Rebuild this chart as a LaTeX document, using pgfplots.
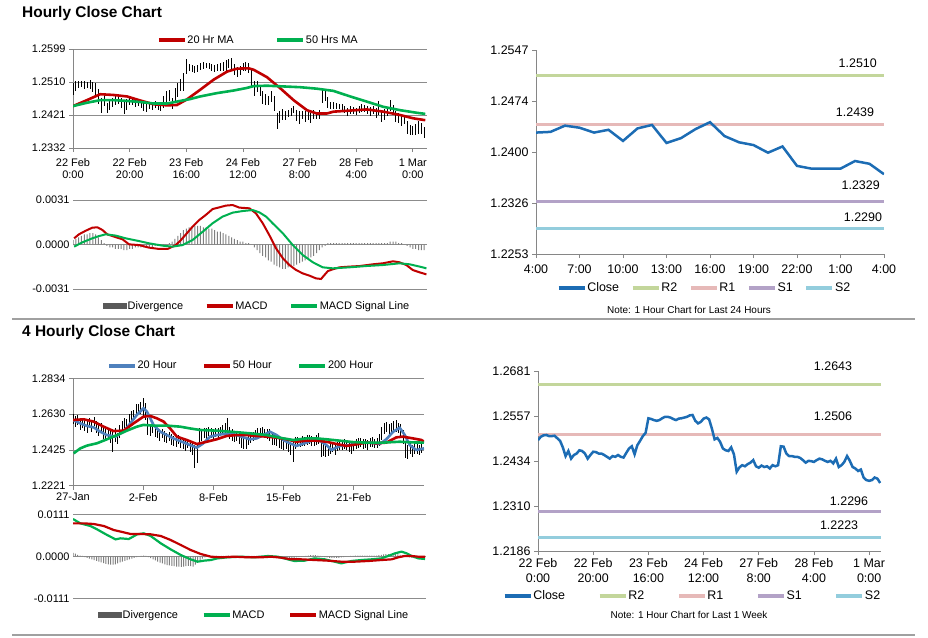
\documentclass[border=0pt]{standalone}
\usepackage{fontspec}
\setmainfont{Liberation Sans}
\usepackage{pgfplots}
\pgfplotsset{compat=1.18}
\usepackage{pgfplotstable}

\definecolor{maRed}{HTML}{C00000}
\definecolor{maGreen}{HTML}{00B050}
\definecolor{maBlue}{HTML}{4F81BD}
\definecolor{closeBlue}{HTML}{1C6CB4}
\definecolor{rTwo}{HTML}{C3D69B}
\definecolor{rOne}{HTML}{E6B9B8}
\definecolor{sOne}{HTML}{B3A2C7}
\definecolor{sTwo}{HTML}{93CDDD}
\definecolor{axGray}{HTML}{868686}
\definecolor{gridGray}{HTML}{8C8C8C}
\definecolor{divGray}{HTML}{7F7F7F}
\definecolor{divDark}{HTML}{595959}
\definecolor{sepGray}{HTML}{A0A0A0}

% hourly close, 22 Feb 0:00 .. 1 Mar 4:00 (h = hour index), e = half of hi-lo range
\pgfplotstableread{
h c e
0 1.2491 0.0017
1 1.2500 0.0014
2 1.2504 0.0010
3 1.2505 0.0009
4 1.2502 0.0010
5 1.2502 0.0009
6 1.2503 0.0012
7 1.2496 0.0014
8 1.2489 0.0017
9 1.2471 0.0020
10 1.2447 0.0020
11 1.2461 0.0017
12 1.2440 0.0014
13 1.2450 0.0015
14 1.2454 0.0012
15 1.2463 0.0014
16 1.2461 0.0010
17 1.2454 0.0014
18 1.2440 0.0017
19 1.2450 0.0015
20 1.2459 0.0012
21 1.2458 0.0010
22 1.2454 0.0012
23 1.2454 0.0009
24 1.2450 0.0010
25 1.2445 0.0012
26 1.2440 0.0010
27 1.2447 0.0009
28 1.2445 0.0010
29 1.2450 0.0009
30 1.2445 0.0010
31 1.2443 0.0012
32 1.2456 0.0015
33 1.2468 0.0017
34 1.2474 0.0014
35 1.2452 0.0015
36 1.2477 0.0017
37 1.2489 0.0019
38 1.2502 0.0017
39 1.2511 0.0024
40 1.2551 0.0020
41 1.2549 0.0010
42 1.2546 0.0009
43 1.2544 0.0010
44 1.2546 0.0009
45 1.2551 0.0009
46 1.2555 0.0010
47 1.2555 0.0007
48 1.2553 0.0009
49 1.2549 0.0010
50 1.2546 0.0009
51 1.2550 0.0009
52 1.2551 0.0010
53 1.2553 0.0012
54 1.2555 0.0014
55 1.2559 0.0012
56 1.2560 0.0014
57 1.2544 0.0015
58 1.2537 0.0014
59 1.2541 0.0012
60 1.2550 0.0010
61 1.2553 0.0012
62 1.2548 0.0014
63 1.2523 0.0024
64 1.2493 0.0020
65 1.2497 0.0015
66 1.2486 0.0014
67 1.2468 0.0017
68 1.2463 0.0014
69 1.2461 0.0012
70 1.2471 0.0015
71 1.2452 0.0020
72 1.2404 0.0022
73 1.2416 0.0017
74 1.2422 0.0014
75 1.2419 0.0012
76 1.2425 0.0010
77 1.2429 0.0012
78 1.2436 0.0010
79 1.2419 0.0015
80 1.2415 0.0017
81 1.2421 0.0012
82 1.2417 0.0014
83 1.2419 0.0012
84 1.2413 0.0014
85 1.2422 0.0012
86 1.2419 0.0010
87 1.2422 0.0012
88 1.2474 0.0020
89 1.2473 0.0014
90 1.2454 0.0015
91 1.2447 0.0010
92 1.2447 0.0009
93 1.2445 0.0009
94 1.2445 0.0007
95 1.2442 0.0009
96 1.2436 0.0010
97 1.2429 0.0012
98 1.2434 0.0010
99 1.2433 0.0009
100 1.2431 0.0010
101 1.2436 0.0009
102 1.2440 0.0010
103 1.2438 0.0009
104 1.2434 0.0010
105 1.2431 0.0012
106 1.2434 0.0010
107 1.2427 0.0014
108 1.2440 0.0020
109 1.2417 0.0015
110 1.2422 0.0014
111 1.2431 0.0012
112 1.2447 0.0015
113 1.2434 0.0014
114 1.2417 0.0015
115 1.2413 0.0014
116 1.2406 0.0014
117 1.2410 0.0012
118 1.2388 0.0017
119 1.2381 0.0014
120 1.2379 0.0012
121 1.2381 0.0015
122 1.2388 0.0017
123 1.2385 0.0014
124 1.2373 0.0015
}\hourly

\pgfplotstableread{
h m
0 1.2445
4.9 1.2461
9.6 1.2477
14.4 1.2475
19.1 1.2471
23.8 1.2460
28.5 1.2450
33.2 1.2447
36.7 1.2448
40.2 1.2463
44.9 1.2489
49.6 1.2516
54.4 1.2538
57.9 1.2546
62.0 1.2547
63.8 1.2543
68.5 1.2523
73.2 1.2493
77.9 1.2461
82.6 1.2434
86.1 1.2425
89.6 1.2425
92.0 1.2430
97.9 1.2433
103.8 1.2436
109.6 1.2430
115.5 1.2421
120.2 1.2412
124.4 1.2407
}\hmaTwenty

\pgfplotstableread{
h m
0 1.2445
4.9 1.2454
9.6 1.2461
14.4 1.2461
19.1 1.2459
23.8 1.2456
28.5 1.2452
33.2 1.2452
37.9 1.2459
41.4 1.2464
44.9 1.2471
50.8 1.2480
56.7 1.2487
61.4 1.2494
63.8 1.2499
68.5 1.2500
74.4 1.2498
80.2 1.2496
86.1 1.2492
92.0 1.2486
97.9 1.2471
103.8 1.2457
109.6 1.2443
115.5 1.2434
121.4 1.2427
124.4 1.2424
}\hmaFifty

\pgfplotstableread{
h d
0 0.0003
1 0.0004
2 0.0005
3 0.0006
4 0.0007
5 0.0007
6 0.0008
7 0.0008
8 0.0007
9 0.0005
10 0.0003
11 0.0001
12 -0.0001
13 -0.0002
14 -0.0002
15 -0.0003
16 -0.0003
17 -0.0003
18 -0.0004
19 -0.0004
20 -0.0003
21 -0.0003
22 -0.0002
23 -0.0002
24 -0.0002
25 -0.0002
26 -0.0002
27 -0.0002
28 -0.0002
29 -0.0001
30 -0.0001
31 -0.0001
32 -0.0001
33 0.0000
34 0.0001
35 0.0002
36 0.0004
37 0.0006
38 0.0008
39 0.0010
40 0.0011
41 0.0012
42 0.0012
43 0.0013
44 0.0013
45 0.0013
46 0.0012
47 0.0012
48 0.0011
49 0.0011
50 0.0010
51 0.0009
52 0.0009
53 0.0008
54 0.0007
55 0.0006
56 0.0005
57 0.0004
58 0.0003
59 0.0002
60 0.0002
61 0.0001
62 0.0001
63 0.0000
64 -0.0002
65 -0.0004
66 -0.0006
67 -0.0008
68 -0.0009
69 -0.0011
70 -0.0012
71 -0.0014
72 -0.0015
73 -0.0016
74 -0.0017
75 -0.0017
76 -0.0016
77 -0.0015
78 -0.0015
79 -0.0014
80 -0.0013
81 -0.0012
82 -0.0011
83 -0.0010
84 -0.0009
85 -0.0008
86 -0.0006
87 -0.0004
88 -0.0002
89 -0.0001
90 0.0001
91 0.0001
92 0.0001
93 0.0001
94 0.0001
95 0.0001
96 0.0001
97 0.0001
98 0.0001
99 0.0001
100 0.0001
101 0.0001
102 0.0001
103 0.0001
104 0.0001
105 0.0001
106 0.0001
107 0.0001
108 0.0001
109 0.0001
110 0.0001
111 0.0001
112 0.0002
113 0.0002
114 0.0002
115 0.0001
116 0.0001
117 0.0000
118 -0.0001
119 -0.0002
120 -0.0003
121 -0.0003
122 -0.0004
123 -0.0004
124 -0.0004
}\hdiv

\pgfplotstableread{
h m
0.4 0.00043
2.1 0.00071
4.5 0.00096
6.8 0.00117
8.6 0.00120
10.4 0.00101
12.1 0.00071
14.5 0.00055
17.5 0.00036
19.8 0.00001
23.3 -0.00004
26.9 -0.00022
30.4 -0.00031
33.4 -0.00031
36.3 -0.00004
38.1 0.00031
39.9 0.00071
42.2 0.00124
44.6 0.00171
46.9 0.00206
49.3 0.00247
51.7 0.00259
54.0 0.00271
56.4 0.00275
58.7 0.00257
62.3 0.00252
64.6 0.00217
67.0 0.00148
69.3 0.00066
71.7 -0.00027
74.1 -0.00096
76.4 -0.00143
78.8 -0.00178
81.1 -0.00201
83.5 -0.00217
85.8 -0.00236
87.6 -0.00240
88.8 -0.00212
90.0 -0.00185
91.7 -0.00173
94.1 -0.00159
97.6 -0.00154
101.2 -0.00150
105.9 -0.00138
109.4 -0.00131
113.0 -0.00117
115.3 -0.00124
117.7 -0.00143
120.0 -0.00178
122.4 -0.00194
124.8 -0.00208
}\hmacd

\pgfplotstableread{
h m
0.4 -0.00015
3.3 0.00015
6.8 0.00043
9.2 0.00059
11.6 0.00071
15.1 0.00062
18.6 0.00043
23.3 0.00024
26.9 0.00008
31.6 -0.00008
35.1 -0.00015
38.7 -0.00004
42.2 0.00031
45.8 0.00089
49.3 0.00148
52.8 0.00194
56.4 0.00222
59.9 0.00233
63.4 0.00240
65.8 0.00224
68.2 0.00194
70.5 0.00148
74.1 0.00078
77.6 -0.00004
81.1 -0.00073
84.7 -0.00124
88.2 -0.00159
91.7 -0.00166
97.6 -0.00159
103.5 -0.00150
109.4 -0.00143
115.3 -0.00131
118.9 -0.00138
122.4 -0.00154
124.8 -0.00166
}\hsignal

% 4-hourly close, 27 Jan .. 1 Mar (b = bar index)
\pgfplotstableread{
b c e
0 1.2600 0.0029
1 1.2587 0.0032
2 1.2596 0.0026
3 1.2573 0.0035
4 1.2581 0.0029
5 1.2568 0.0032
6 1.2558 0.0038
7 1.2577 0.0029
8 1.2562 0.0032
9 1.2587 0.0026
10 1.2554 0.0035
11 1.2539 0.0032
12 1.2548 0.0029
13 1.2520 0.0035
14 1.2510 0.0032
15 1.2524 0.0029
16 1.2501 0.0035
17 1.2478 0.0064
18 1.2510 0.0038
19 1.2491 0.0032
20 1.2529 0.0038
21 1.2558 0.0032
22 1.2577 0.0029
23 1.2573 0.0026
24 1.2596 0.0032
25 1.2615 0.0035
26 1.2625 0.0029
27 1.2653 0.0032
28 1.2657 0.0029
29 1.2663 0.0035
30 1.2668 0.0056
31 1.2644 0.0048
32 1.2558 0.0048
33 1.2539 0.0035
34 1.2548 0.0029
35 1.2529 0.0032
36 1.2520 0.0029
37 1.2510 0.0032
38 1.2520 0.0026
39 1.2501 0.0032
40 1.2491 0.0029
41 1.2501 0.0026
42 1.2486 0.0032
43 1.2478 0.0029
44 1.2472 0.0032
45 1.2486 0.0026
46 1.2467 0.0032
47 1.2459 0.0029
48 1.2453 0.0032
49 1.2463 0.0026
50 1.2448 0.0032
51 1.2434 0.0040
52 1.2387 0.0064
53 1.2406 0.0056
54 1.2501 0.0048
55 1.2510 0.0032
56 1.2524 0.0029
57 1.2516 0.0032
58 1.2529 0.0026
59 1.2520 0.0029
60 1.2510 0.0032
61 1.2524 0.0026
62 1.2520 0.0029
63 1.2529 0.0026
64 1.2539 0.0029
65 1.2548 0.0032
66 1.2558 0.0048
67 1.2520 0.0035
68 1.2510 0.0032
69 1.2501 0.0029
70 1.2505 0.0026
71 1.2491 0.0032
72 1.2472 0.0035
73 1.2463 0.0032
74 1.2459 0.0029
75 1.2482 0.0026
76 1.2491 0.0029
77 1.2501 0.0026
78 1.2510 0.0029
79 1.2520 0.0032
80 1.2524 0.0026
81 1.2529 0.0029
82 1.2520 0.0026
83 1.2516 0.0029
84 1.2510 0.0032
85 1.2491 0.0035
86 1.2482 0.0029
87 1.2478 0.0032
88 1.2467 0.0029
89 1.2463 0.0032
90 1.2453 0.0029
91 1.2459 0.0026
92 1.2448 0.0032
93 1.2434 0.0035
94 1.2415 0.0056
95 1.2463 0.0035
96 1.2472 0.0029
97 1.2467 0.0026
98 1.2478 0.0029
99 1.2472 0.0026
100 1.2482 0.0029
101 1.2486 0.0026
102 1.2478 0.0029
103 1.2472 0.0026
104 1.2482 0.0029
105 1.2491 0.0032
106 1.2434 0.0048
107 1.2425 0.0035
108 1.2415 0.0032
109 1.2421 0.0029
110 1.2434 0.0032
111 1.2444 0.0029
112 1.2429 0.0032
113 1.2444 0.0026
114 1.2453 0.0029
115 1.2448 0.0026
116 1.2459 0.0029
117 1.2453 0.0026
118 1.2444 0.0029
119 1.2434 0.0032
120 1.2448 0.0029
121 1.2459 0.0026
122 1.2463 0.0029
123 1.2467 0.0026
124 1.2459 0.0029
125 1.2463 0.0026
126 1.2453 0.0029
127 1.2467 0.0026
128 1.2472 0.0029
129 1.2463 0.0026
130 1.2467 0.0029
131 1.2482 0.0032
132 1.2520 0.0038
133 1.2548 0.0032
134 1.2554 0.0029
135 1.2543 0.0032
136 1.2548 0.0029
137 1.2558 0.0032
138 1.2562 0.0035
139 1.2548 0.0029
140 1.2539 0.0032
141 1.2501 0.0040
142 1.2425 0.0048
143 1.2415 0.0040
144 1.2434 0.0032
145 1.2421 0.0035
146 1.2429 0.0029
147 1.2434 0.0032
148 1.2425 0.0029
149 1.2434 0.0026
}\fourh

\pgfplotstableread{
b m
0 1.2596
3.1 1.2577
6.0 1.2562
8.8 1.2554
11.7 1.2529
14.5 1.2510
18.1 1.2501
21.6 1.2529
24.5 1.2577
27.3 1.2625
30.1 1.2663
31.6 1.2644
34.4 1.2568
37.3 1.2529
40.1 1.2510
42.9 1.2491
46.5 1.2472
50.0 1.2453
52.9 1.2438
55.7 1.2463
58.6 1.2501
61.4 1.2510
64.3 1.2516
67.1 1.2520
70.0 1.2510
72.8 1.2497
75.6 1.2486
78.5 1.2491
81.3 1.2510
84.2 1.2529
87.0 1.2510
89.9 1.2482
92.7 1.2463
95.5 1.2448
99.8 1.2467
104.1 1.2491
108.3 1.2453
110.5 1.2425
114.0 1.2448
118.3 1.2453
122.6 1.2467
126.8 1.2467
131.1 1.2459
133.9 1.2486
136.8 1.2529
139.6 1.2552
141.8 1.2510
143.9 1.2453
146.7 1.2425
150.0 1.2434
}\fmaTwenty

\pgfplotstableread{
b m
0 1.2596
4.6 1.2600
8.8 1.2587
13.1 1.2558
17.3 1.2533
21.6 1.2535
25.9 1.2577
30.1 1.2615
33.0 1.2619
35.8 1.2606
38.7 1.2587
41.5 1.2548
44.4 1.2501
48.6 1.2482
52.9 1.2459
57.2 1.2472
61.4 1.2486
65.7 1.2505
70.0 1.2510
74.2 1.2510
78.5 1.2505
82.8 1.2501
87.0 1.2495
91.3 1.2486
95.5 1.2472
99.8 1.2478
104.1 1.2478
108.3 1.2472
112.6 1.2459
116.9 1.2448
121.1 1.2457
125.4 1.2467
129.7 1.2463
133.9 1.2467
138.2 1.2497
141.0 1.2501
145.3 1.2491
148.9 1.2482
150.0 1.2472
}\fmaFifty

\pgfplotstableread{
b m
0.3 1.2406
3.1 1.2434
6.0 1.2450
10.2 1.2463
14.5 1.2486
18.8 1.2510
23.0 1.2535
27.3 1.2558
30.1 1.2568
34.4 1.2564
40.1 1.2564
45.8 1.2558
50.0 1.2548
54.3 1.2539
61.4 1.2535
68.5 1.2528
75.6 1.2520
82.8 1.2510
89.9 1.2491
94.1 1.2482
99.8 1.2491
104.1 1.2491
108.3 1.2486
114.0 1.2478
119.7 1.2470
125.4 1.2467
132.5 1.2467
139.6 1.2472
145.3 1.2468
150.0 1.2467
}\fmaTwoHundred

\pgfplotstableread{
b d
0 0.0009
1 0.0007
2 0.0004
3 0.0002
4 0.0001
5 -0.0002
6 -0.0004
7 -0.0006
8 -0.0008
9 -0.0010
10 -0.0012
11 -0.0014
12 -0.0016
13 -0.0018
14 -0.0020
15 -0.0021
16 -0.0022
17 -0.0022
18 -0.0021
19 -0.0019
20 -0.0016
21 -0.0014
22 -0.0012
23 -0.0010
24 -0.0008
25 -0.0006
26 -0.0004
27 -0.0002
28 0.0000
29 0.0001
30 0.0002
31 0.0001
32 -0.0002
33 -0.0005
34 -0.0008
35 -0.0011
36 -0.0014
37 -0.0017
38 -0.0019
39 -0.0021
40 -0.0023
41 -0.0024
42 -0.0025
43 -0.0026
44 -0.0027
45 -0.0027
46 -0.0028
47 -0.0027
48 -0.0026
49 -0.0025
50 -0.0026
51 -0.0027
52 -0.0022
53 -0.0015
54 -0.0010
55 -0.0006
56 -0.0003
57 -0.0001
58 -0.0001
59 0.0000
60 0.0001
61 0.0001
62 0.0001
63 0.0001
64 0.0001
65 0.0001
66 0.0002
67 0.0001
68 0.0000
69 0.0000
70 0.0000
71 -0.0001
72 -0.0001
73 -0.0001
74 0.0000
75 0.0000
76 0.0001
77 0.0001
78 0.0001
79 0.0002
80 0.0002
81 0.0001
82 0.0001
83 0.0000
84 0.0000
85 -0.0001
86 -0.0002
87 -0.0002
88 -0.0003
89 -0.0003
90 -0.0004
91 -0.0004
92 -0.0004
93 -0.0004
94 -0.0005
95 -0.0003
96 -0.0002
97 -0.0001
98 0.0000
99 0.0001
100 0.0002
101 0.0003
102 0.0003
103 0.0003
104 0.0002
105 0.0001
106 -0.0001
107 -0.0002
108 -0.0003
109 -0.0004
110 -0.0004
111 -0.0004
112 -0.0004
113 -0.0004
114 -0.0003
115 -0.0002
116 -0.0001
117 0.0000
118 0.0001
119 0.0001
120 0.0002
121 0.0002
122 0.0002
123 0.0002
124 0.0002
125 0.0002
126 0.0002
127 0.0002
128 0.0002
129 0.0002
130 0.0003
131 0.0004
132 0.0005
133 0.0006
134 0.0006
135 0.0006
136 0.0006
137 0.0006
138 0.0005
139 0.0004
140 0.0003
141 0.0002
142 -0.0001
143 -0.0003
144 -0.0004
145 -0.0005
146 -0.0005
147 -0.0005
148 -0.0004
149 -0.0004
}\fdiv

\pgfplotstableread{
b m
0 0.00986
3.1 0.00871
7.4 0.00801
10.2 0.00713
14.5 0.00563
18.1 0.00448
20.2 0.00475
23.7 0.00457
27.3 0.00581
30.1 0.00607
33.0 0.00537
37.3 0.00343
41.5 0.00184
45.8 0.00034
50.0 -0.00080
52.9 -0.00142
55.7 -0.00115
58.6 -0.00098
61.4 -0.00054
65.7 -0.00027
71.4 -0.00010
77.1 -0.00027
82.8 0.00008
87.0 -0.00010
91.3 -0.00080
94.1 -0.00124
98.4 -0.00115
102.7 -0.00054
106.9 -0.00080
111.2 -0.00142
114.0 -0.00186
118.3 -0.00124
122.6 -0.00098
126.8 -0.00080
131.1 -0.00054
133.9 0.00008
136.8 0.00078
139.6 0.00123
141.8 0.00078
143.9 0.00008
146.7 -0.00054
149.6 -0.00071
}\fmacd

\pgfplotstableread{
b m
0 0.00871
4.6 0.00871
8.8 0.00854
13.1 0.00801
17.3 0.00695
21.6 0.00633
24.5 0.00589
28.7 0.00589
33.0 0.00581
37.3 0.00537
41.5 0.00431
45.8 0.00299
50.0 0.00167
54.3 0.00061
58.6 -0.00010
62.8 -0.00027
68.5 -0.00010
74.2 -0.00027
79.9 -0.00027
84.2 -0.00010
88.4 -0.00036
92.7 -0.00080
97.0 -0.00080
102.7 -0.00098
108.3 -0.00115
114.0 -0.00142
119.7 -0.00142
125.4 -0.00124
131.1 -0.00098
135.4 -0.00080
138.2 -0.00027
141.0 0.00008
143.9 0.00008
146.7 -0.00010
149.6 -0.00010
}\fsignal

\pgfplotsset{
  panel/.style={scale only axis, clip mode=individual, scaled ticks=false,
    axis line style={-, draw=axGray, line width=0.75bp},
    tick style={draw=axGray, line width=0.75bp},
    tick align=outside, major tick length=4bp,
    grid style={draw=gridGray, line width=0.75bp},
    legend image code/.code={\draw[##1, line width=4bp] (0bp,0bp) -- (26bp,0bp);},
    legend style={draw=none, fill=none, inner sep=0pt, outer sep=0pt,
      legend columns=-1, anchor=west, nodes={inner sep=0.6bp}},
  },
  lines/.style={axis x line*=bottom, axis y line*=left, tick pos=left,
    axis line style={-}},
  macd/.style={axis line style={draw=none}, major tick length=0pt,
    xtick=\empty, ymajorgrids, ytick={-0.0031,0,0.0031},
    yticklabels={-0.0031,0.0000,0.0031}},
  smallfont/.style={tick label style={font=\fontsize{11}{12}\selectfont},
    legend style={font=\fontsize{11}{12}\selectfont}},
  bigfont/.style={tick label style={font=\fontsize{12.5}{15}\selectfont},
    legend style={font=\fontsize{12.5}{15}\selectfont}},
  gap/.style={legend style={/tikz/every even column/.append style={column sep=#1}}},
  divbar/.style={ybar, bar width=1bp, fill=divGray, draw=none,
    legend image code/.code={\fill[divDark] (0bp,-3bp) rectangle (24bp,3bp);}},
}

\begin{document}
\begin{tikzpicture}
\path[use as bounding box] (0bp,0bp) rectangle (928bp,-638bp);

\node[anchor=west, inner sep=0pt, font=\bfseries\fontsize{15.5}{18}\selectfont] at (22bp,-14bp) {Hourly Close Chart};
\node[anchor=west, inner sep=0pt, font=\bfseries\fontsize{15.5}{18}\selectfont] at (22bp,-333bp) {4 Hourly Close Chart};
\node[inner sep=0pt, font=\fontsize{10}{12}\selectfont] at (689bp,-310bp) {Note: 1 Hour Chart for Last 24 Hours};
\node[inner sep=0pt, font=\fontsize{10}{12}\selectfont] at (689bp,-615bp) {Note: 1 Hour Chart for Last 1 Week};
\draw[sepGray, line width=1.2bp] (12bp,-319bp) -- (915bp,-319bp);
\draw[sepGray, line width=1.2bp] (12bp,-635bp) -- (915bp,-635bp);

% hourly close with moving averages
\begin{axis}[panel, lines, smallfont, gap=41bp,
  at={(73bp,-148bp)}, anchor=south west, width=354bp, height=99bp,
  xmin=0, xmax=125, ymin=1.2332, ymax=1.2599,
  ytick={1.2332,1.2421,1.2510,1.2599},
  yticklabels={1.2332,1.2421,1.2510,1.2599},
  ymajorgrids,
  xtick={0,20,40,60,80,100,120},
  xticklabels={{22 Feb\\0:00},{22 Feb\\20:00},{23 Feb\\16:00},{24 Feb\\12:00},{27 Feb\\8:00},{28 Feb\\4:00},{1 Mar\\0:00}},
  xticklabel style={align=center, yshift=-3bp},
  legend style={at={(0.237,1.091)}}]
\addplot[forget plot, draw=none, mark=none,
  error bars/.cd, y dir=both, y explicit, error mark=none,
  error bar style={draw=black, line width=0.8bp}]
  table[x=h, y=c, y error=e] {\hourly};
\addplot[maRed, line width=2.6bp] table[x=h, y=m] {\hmaTwenty};
\addplot[maGreen, line width=2.6bp] table[x=h, y=m] {\hmaFifty};
\legend{20 Hr MA, 50 Hrs MA}
\end{axis}

% hourly MACD
\begin{axis}[panel, macd, smallfont, gap=21bp,
  at={(73bp,-289bp)}, anchor=south west, width=354bp, height=89bp,
  xmin=0, xmax=125, ymin=-0.0031, ymax=0.0031,
  legend style={at={(0.085,-0.191)}}]
\addplot[divbar] table[x=h, y=d] {\hdiv};
\addplot[maRed, line width=2bp] table[x=h, y=m] {\hmacd};
\addplot[maGreen, line width=2bp] table[x=h, y=m] {\hsignal};
\legend{Divergence, MACD, MACD Signal Line}
\end{axis}

% last 24 hours with pivot levels
\begin{axis}[panel, lines, bigfont, gap=11bp,
  at={(536bp,-254bp)}, anchor=south west, width=348bp, height=204bp,
  xmin=0, xmax=24, ymin=1.2253, ymax=1.2547,
  ytick={1.2253,1.23265,1.2400,1.24735,1.2547},
  yticklabels={1.2253,1.2326,1.2400,1.2474,1.2547},
  xtick={0,3,...,24},
  xticklabels={4:00,7:00,10:00,13:00,16:00,19:00,22:00,1:00,4:00},
  xticklabel style={yshift=-3bp},
  legend style={at={(0.0595,-0.167)}}]
\addlegendimage{closeBlue, line width=2.5bp}
\addplot[rTwo, line width=3bp] coordinates {(0,1.2510) (24,1.2510)};
\addplot[rOne, line width=3bp] coordinates {(0,1.2439) (24,1.2439)};
\addplot[sOne, line width=3bp] coordinates {(0,1.2329) (24,1.2329)};
\addplot[sTwo, line width=3bp] coordinates {(0,1.2290) (24,1.2290)};
\addplot[forget plot, closeBlue, line width=2.5bp] coordinates {
(0,1.2428) (1,1.2429) (2,1.2438) (3,1.2435) (4,1.2428) (5,1.2432)
(6,1.2416) (7,1.2434) (8,1.2439) (9,1.2413) (10,1.2420) (11,1.2433)
(12,1.2443) (13,1.2423) (14,1.2414) (15,1.2410) (16,1.2399) (17,1.2408)
(18,1.2380) (19,1.2376) (20,1.2376) (21,1.2376) (22,1.2387) (23,1.2383)
(24,1.2368)};
\node[font=\fontsize{12.5}{15}\selectfont] at (axis cs:22.19,1.2528) {1.2510};
\node[font=\fontsize{12.5}{15}\selectfont] at (axis cs:22.0,1.2458) {1.2439};
\node[font=\fontsize{12.5}{15}\selectfont] at (axis cs:22.39,1.2352) {1.2329};
\node[font=\fontsize{12.5}{15}\selectfont] at (axis cs:22.55,1.2306) {1.2290};
\legend{Close, R2, R1, S1, S2}
\end{axis}

% 4-hourly close with moving averages
\begin{axis}[panel, lines, smallfont, gap=25bp,
  at={(73bp,-485.7bp)}, anchor=south west, width=351bp, height=107.4bp,
  xmin=0, xmax=150, ymin=1.2221, ymax=1.2834,
  ytick={1.2221,1.242533,1.262967,1.2834},
  yticklabels={1.2221,1.2425,1.2630,1.2834},
  ymajorgrids,
  xtick={0,30,60,90,120},
  xticklabels={27-Jan,2-Feb,8-Feb,15-Feb,21-Feb},
  legend style={at={(0.097,1.117)}}]
\addplot[forget plot, draw=none, mark=none,
  error bars/.cd, y dir=both, y explicit, error mark=none,
  error bar style={draw=black, line width=0.8bp}]
  table[x=b, y=c, y error=e] {\fourh};
\addplot[maBlue, line width=2.6bp] table[x=b, y=m] {\fmaTwenty};
\addplot[maRed, line width=2.6bp] table[x=b, y=m] {\fmaFifty};
\addplot[maGreen, line width=2.6bp] table[x=b, y=m] {\fmaTwoHundred};
\legend{20 Hour, 50 Hour, 200 Hour}
\end{axis}

% 4-hourly MACD
\begin{axis}[panel, macd, smallfont, gap=23bp,
  at={(73bp,-598.3bp)}, anchor=south west, width=353bp, height=84bp,
  xmin=0, xmax=150, ymin=-0.0111, ymax=0.0111,
  ytick={-0.0111,0,0.0111},
  yticklabels={-0.0111,0.0000,0.0111},
  legend style={at={(0.071,-0.199)}}]
\addplot[divbar] table[x=b, y=d] {\fdiv};
\addplot[maGreen, line width=2.2bp] table[x=b, y=m] {\fmacd};
\addplot[maRed, line width=2.2bp] table[x=b, y=m] {\fsignal};
\legend{Divergence, MACD, MACD Signal Line}
\end{axis}

% last week hourly close with pivot levels
\begin{axis}[panel, lines, bigfont, gap=32bp,
  at={(538bp,-551bp)}, anchor=south west, width=343bp, height=180bp,
  xmin=0, xmax=124.3, ymin=1.2186, ymax=1.2681,
  ytick={1.2186,1.230975,1.24335,1.255725,1.2681},
  yticklabels={1.2186,1.2310,1.2434,1.2557,1.2681},
  xtick={0,20,40,60,80,100,120},
  xticklabels={{22 Feb\\0:00},{22 Feb\\20:00},{23 Feb\\16:00},{24 Feb\\12:00},{27 Feb\\8:00},{28 Feb\\4:00},{1 Mar\\0:00}},
  xticklabel style={align=center},
  legend style={at={(-0.103,-0.25)}}]
\addlegendimage{closeBlue, line width=2.5bp}
\addplot[rTwo, line width=3bp] coordinates {(0,1.2643) (124.3,1.2643)};
\addplot[rOne, line width=3bp] coordinates {(0,1.2506) (124.3,1.2506)};
\addplot[sOne, line width=3bp] coordinates {(0,1.2296) (124.3,1.2296)};
\addplot[sTwo, line width=3bp] coordinates {(0,1.2223) (124.3,1.2223)};
\addplot[forget plot, closeBlue, line width=2.5bp] table[x=h, y=c] {\hourly};
\node[font=\fontsize{12.5}{15}\selectfont] at (axis cs:106.9,1.2695) {1.2643};
\node[font=\fontsize{12.5}{15}\selectfont] at (axis cs:106.9,1.2557) {1.2506};
\node[font=\fontsize{12.5}{15}\selectfont] at (axis cs:112.7,1.2324) {1.2296};
\node[font=\fontsize{12.5}{15}\selectfont] at (axis cs:109.1,1.2257) {1.2223};
\legend{Close, R2, R1, S1, S2}
\end{axis}
\end{tikzpicture}
\end{document}
